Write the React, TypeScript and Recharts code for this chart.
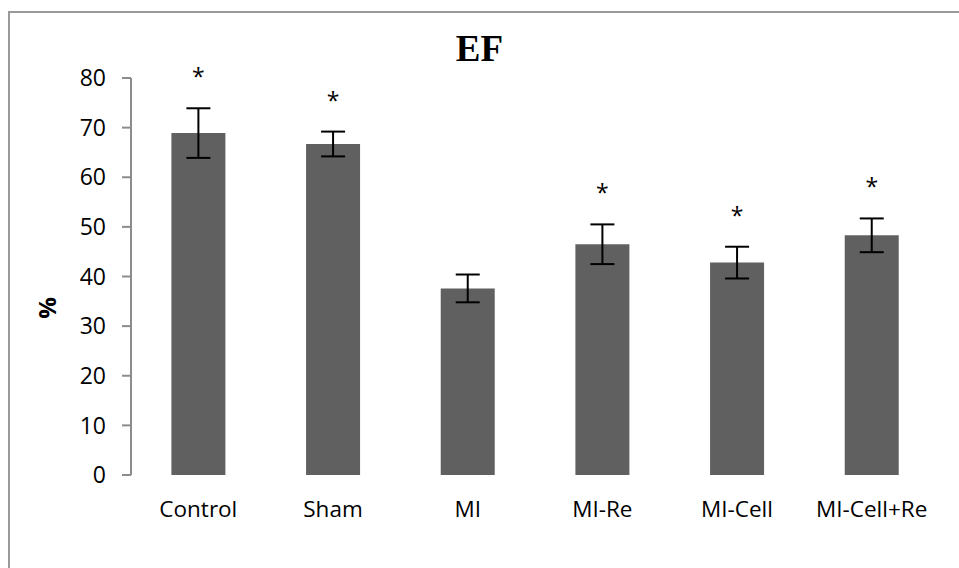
import React from 'react';
import { BarChart, Bar, XAxis, YAxis, ErrorBar, LabelList } from 'recharts';

const groups = ['Control', 'Sham', 'MI', 'MI-Re', 'MI-Cell', 'MI-Cell+Re'];
const efMeans = [68.9, 66.7, 37.6, 46.5, 42.8, 48.3];
const efErrors = [5.0, 2.5, 2.8, 4.0, 3.2, 3.4];
const significant = [true, true, false, true, true, true];
const yTicks = [0, 10, 20, 30, 40, 50, 60, 70, 80];
const edgeTicks = [0, 1, 2, 3, 4, 5, 6];

const data = groups.map((g, i) => ({ group: g, value: efMeans[i], err: efErrors[i] }));

const axisGray = '#8c8c8c';
const sans = '"Open Sans", "Noto Sans", sans-serif';

// asterisk sits a fixed distance above the top of the error bar
const Star = (props: any) => {
  const { x, y, width, height, value, index } = props;
  if (!significant[index]) return null;
  const perUnit = height / value;
  const errTop = y - efErrors[index] * perUnit;
  return (
    <text x={x + width / 2} y={errTop - 23} textAnchor="middle" fontSize={23} fontFamily={sans} fill="#000">
      *
    </text>
  );
};

const PercentLabel = () => (
  <text
    x={46}
    y={308}
    transform="rotate(-90 46 308)"
    textAnchor="middle"
    dominantBaseline="central"
    fontSize={24}
    fontWeight="bold"
    fontFamily={sans}
    fill="#000"
  >
    %
  </text>
);

export default function App() {
  return (
    <div style={{ position: 'fixed', left: 0, top: 0, width: 959, height: 568, overflow: 'hidden', background: '#fff' }}>
      <div
        style={{
          position: 'absolute',
          left: 8,
          top: 11,
          width: 1000,
          height: 600,
          borderLeft: '2px solid #999',
          borderTop: '2px solid #999',
        }}
      />
      <div
        style={{
          position: 'absolute',
          left: 0,
          top: 29,
          width: 959,
          textAlign: 'center',
          fontFamily: '"Liberation Serif", "Times New Roman", serif',
          fontWeight: 'bold',
          fontSize: 37,
          lineHeight: '40px',
          paddingRight: 5,
        }}
      >
        EF
      </div>
      <div style={{ position: 'absolute', left: 0, top: 0 }}>
        <BarChart
          width={959}
          height={568}
          data={data}
          margin={{ top: 78, right: 20, bottom: 53, left: 0 }}
          barCategoryGap="30%"
        >
          <XAxis
            xAxisId="edge"
            type="number"
            domain={[0, 6]}
            ticks={edgeTicks}
            tick={false}
            tickSize={8}
            height={0}
            stroke={axisGray}
            strokeWidth={2}
          />
          <XAxis
            xAxisId="cat"
            dataKey="group"
            axisLine={false}
            tickLine={false}
            tickSize={0}
            tickMargin={26}
            height={40}
            interval={0}
            tick={{ fontSize: 22.5, fill: '#000', fontFamily: sans }}
          />
          <YAxis
            domain={[0, 80]}
            ticks={yTicks}
            width={131}
            tickSize={9}
            tickMargin={16}
            stroke={axisGray}
            strokeWidth={2}
            tick={{ fontSize: 23, fill: '#000', fontFamily: sans }}
            label={<PercentLabel />}
          />
          <Bar xAxisId="cat" dataKey="value" fill="#606060" isAnimationActive={false}>
            <ErrorBar dataKey="err" width={12} stroke="#000" strokeWidth={2} />
            <LabelList dataKey="value" content={<Star />} />
          </Bar>
        </BarChart>
      </div>
    </div>
  );
}
